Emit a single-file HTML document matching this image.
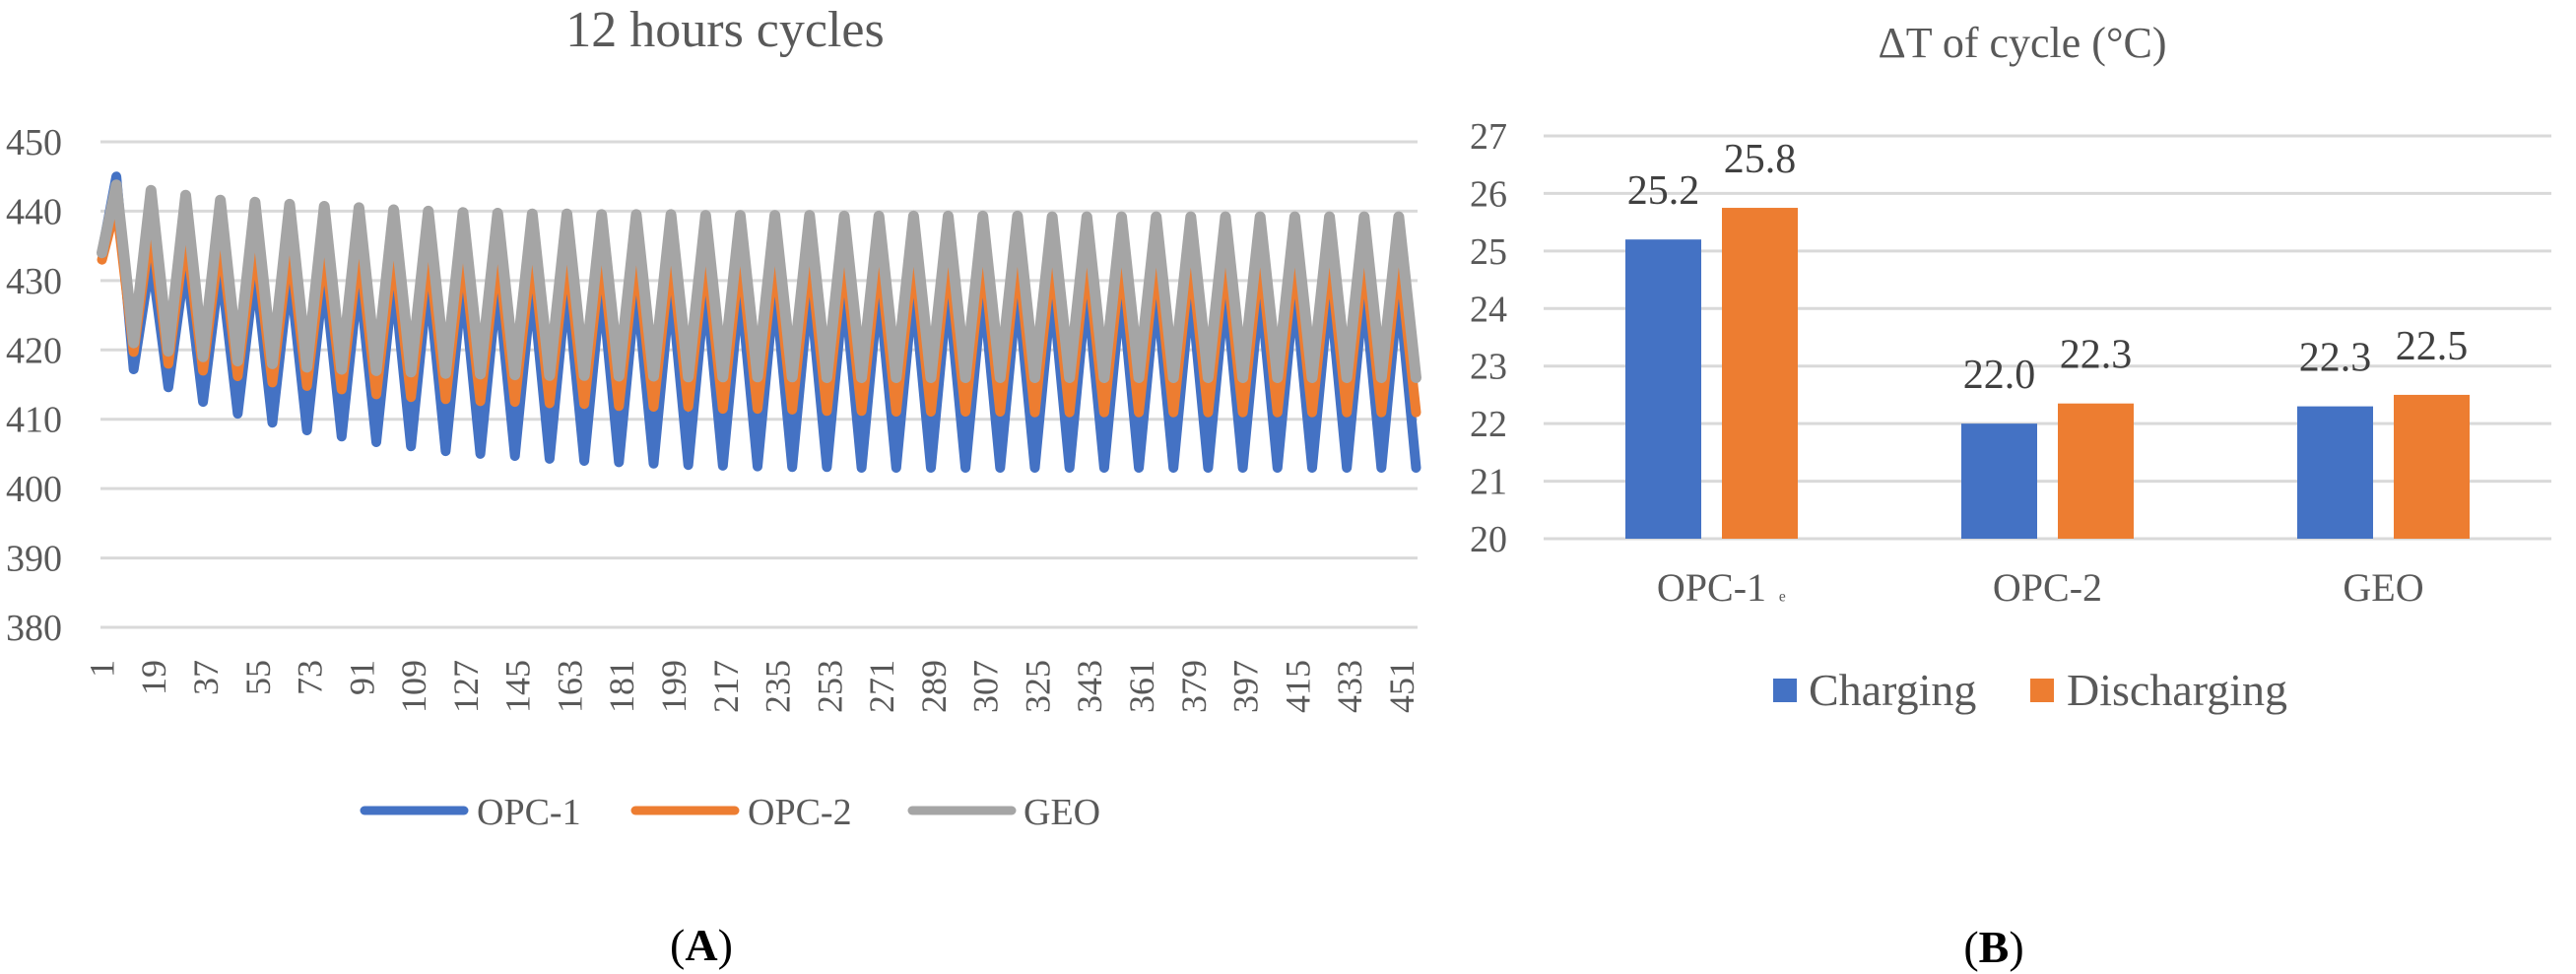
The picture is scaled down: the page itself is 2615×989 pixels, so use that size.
<!DOCTYPE html>
<html><head><meta charset="utf-8">
<style>
html,body{margin:0;padding:0;background:#fff;}
svg{display:block;font-family:"Liberation Serif",serif;}
</style></head>
<body>
<svg id="fig" width="2615" height="989" viewBox="0 0 2615 989" xmlns="http://www.w3.org/2000/svg">
  <g id="lineChart">
    <text x="736" y="47" font-size="52" fill="#595959" text-anchor="middle">12 hours cycles</text>
    <g id="lgrid"></g>
    <g id="lylab"></g>
    <g id="lxlab"></g>
    <g id="lseries"></g>
    <g>
      <g>
        <line x1="370" y1="823" x2="471" y2="823" stroke="#4472c4" stroke-width="9" stroke-linecap="round"/>
        <text x="484" y="837" font-size="38" fill="#595959">OPC-1</text>
      </g>
      <g>
        <line x1="645" y1="823" x2="746" y2="823" stroke="#ed7d31" stroke-width="9" stroke-linecap="round"/>
        <text x="759" y="837" font-size="38" fill="#595959">OPC-2</text>
      </g>
      <g>
        <line x1="926" y1="823" x2="1027" y2="823" stroke="#a5a5a5" stroke-width="9" stroke-linecap="round"/>
        <text x="1039" y="837" font-size="38" fill="#595959">GEO</text>
      </g>
    </g>
    <text x="712" y="975" font-size="46" text-anchor="middle" fill="#000">(<tspan font-weight="bold">A</tspan>)</text>
  </g>

  <g id="barChart">
    <text x="2053" y="58" font-size="44" fill="#595959" text-anchor="middle">ΔT of cycle (°C)</text>
    <g id="bgrid"></g>
    <g id="bylab"></g>
    <g id="bbars"></g>
    <g id="bxlab"></g>
    <text x="1806" y="608" font-size="26" fill="#595959">ₑ</text>
    <g>
      <g>
        <rect x="1800" y="689" width="24" height="24" fill="#4472c4"/>
        <text x="1836" y="716" font-size="46" fill="#595959">Charging</text>
      </g>
      <g>
        <rect x="2061" y="689" width="24" height="24" fill="#ed7d31"/>
        <text x="2098" y="716" font-size="46" fill="#595959">Discharging</text>
      </g>
    </g>
    <text x="2024" y="977" font-size="46" text-anchor="middle" fill="#000">(<tspan font-weight="bold">B</tspan>)</text>
  </g>
</svg>
<script>
// ---------- Line chart data (A) ----------
const lineYTicks = [450, 440, 430, 420, 410, 400, 390, 380];
const lineXTickLabels = [1,19,37,55,73,91,109,127,145,163,181,199,217,235,253,271,289,307,325,343,361,379,397,415,433,451];
const seriesNames = ["OPC-1", "OPC-2", "GEO"];
const startValues = [434, 433, 434];
const opc1Peaks = [445,433.5,433,432.5,432,431.6,431.3,431,430.8,430.6,430.4,430.2,430.1,430,429.9,429.8,429.8,429.7,429.7,429.6,429.6,429.5,429.5,429.5,429.4,429.4,429.4,429.4,429.3,429.3,429.3,429.3,429.3,429.3,429.3,429.3,429.3,429.3];
const opc1Troughs = [417.2,414.6,412.5,410.8,409.5,408.4,407.5,406.7,406.1,405.4,405,404.7,404.3,404,403.8,403.6,403.4,403.3,403.2,403.1,403.1,403,403,403,403,403,403,403,403,403,403,403,403,403,403,403,403,403];
const opc2Peaks = [441,438.2,437.1,436.4,435.9,435.4,435.2,435,434.8,434.7,434.6,434.5,434.5,434.4,434.4,434.3,434.3,434.3,434.2,434.2,434.2,434.2,434.1,434.1,434.1,434.1,434.1,434,434,434,434,434,434,434,434,434,434,434];
const opc2Troughs = [419.7,418,417,416.2,415.3,414.8,414.3,413.6,413.2,412.9,412.6,412.5,412.3,412.2,411.9,411.8,411.8,411.5,411.5,411.4,411.2,411.2,411.1,411.1,411.1,411.1,411,411,411,411,411,411,411,411,411,411,411,411];
const geoPeaks = [443.8,443,442.3,441.6,441.3,441,440.7,440.5,440.2,440,439.8,439.7,439.6,439.6,439.5,439.5,439.5,439.4,439.4,439.4,439.4,439.3,439.3,439.3,439.3,439.3,439.3,439.2,439.2,439.2,439.2,439.2,439.2,439.2,439.2,439.2,439.2,439.2];
const geoTroughs = [421,419.8,419,418.4,418,417.5,417.2,417,416.8,416.6,416.5,416.4,416.3,416.3,416.2,416.2,416.1,416.1,416.1,416.1,416,416,416,416,416,416,416,416,416,416,416,416,416,416,416,416,416,416];

// ---------- Bar chart data (B) ----------
const barCategories = ["OPC-1", "OPC-2", "GEO"];
const chargingValues = [25.2, 22.0, 22.3];
const dischargingValues = [25.75, 22.35, 22.5];
const chargingLabels = ["25.2", "22.0", "22.3"];
const dischargingLabels = ["25.8", "22.3", "22.5"];
const barYTicks = [27, 26, 25, 24, 23, 22, 21, 20];

const NS = "http://www.w3.org/2000/svg";
function mk(tag, attrs, parent) {
  const e = document.createElementNS(NS, tag);
  for (const k in attrs) e.setAttribute(k, attrs[k]);
  parent.appendChild(e);
  return e;
}

// Line chart axes
const L = {left: 102, right: 1439, n: 456, yTop: 144, yBot: 637, vTop: 450, vBot: 380};
const lx = i => L.left + (i - 0.5) * (L.right - L.left) / L.n;
const ly = v => L.yTop + (L.vTop - v) * (L.yBot - L.yTop) / (L.vTop - L.vBot);

const lgrid = document.getElementById('lgrid');
const lylab = document.getElementById('lylab');
lineYTicks.forEach(t => {
  const g = mk('line', {x1: L.left, x2: L.right, y1: ly(t), y2: ly(t), stroke: '#d9d9d9', 'stroke-width': 3}, lgrid);
  
  
  const tx = mk('text', {x: 63, y: ly(t) + 13, 'font-size': 38, fill: '#595959', 'text-anchor': 'end'}, lylab);
  tx.textContent = t;
  
  
});
const lxlab = document.getElementById('lxlab');
lineXTickLabels.forEach(t => {
  const x = lx(t) + 12;
  const tx = mk('text', {x: x, y: 670, 'font-size': 36, fill: '#595959', 'text-anchor': 'end', transform: 'rotate(-90 ' + x + ' 670)'}, lxlab);
  tx.textContent = t;
  
  
});

const seriesPeaks = [opc1Peaks, opc2Peaks, geoPeaks];
const seriesTroughs = [opc1Troughs, opc2Troughs, geoTroughs];
const seriesColors = ['#4472c4', '#ed7d31', '#a5a5a5'];
const lseries = document.getElementById('lseries');
seriesNames.forEach((name, s) => {
  const pts = [[1, startValues[s]]];
  for (let c = 0; c < seriesPeaks[s].length; c++) {
    pts.push([6 + 12 * c, seriesPeaks[s][c]]);
    pts.push([12 + 12 * c, seriesTroughs[s][c]]);
  }
  const p = mk('polyline', {points: pts.map(q => lx(q[0]).toFixed(1) + ',' + ly(q[1]).toFixed(1)).join(' '),
    fill: 'none', stroke: seriesColors[s], 'stroke-width': s === 2 ? 11 : 10, 'stroke-linejoin': 'round', 'stroke-linecap': 'round'}, lseries);
  
  
});

// Bar chart axes
const B = {left: 1567, right: 2590, yTop: 138, yBot: 547, vTop: 27, vBot: 20};
const by = v => B.yTop + (B.vTop - v) * (B.yBot - B.yTop) / (B.vTop - B.vBot);
const catW = (B.right - B.left) / barCategories.length;
const bgrid = document.getElementById('bgrid');
const bylab = document.getElementById('bylab');
barYTicks.forEach(t => {
  const g = mk('line', {x1: B.left, x2: B.right, y1: by(t), y2: by(t), stroke: '#d9d9d9', 'stroke-width': 3}, bgrid);
  
  
  const tx = mk('text', {x: 1530, y: by(t) + 13, 'font-size': 38, fill: '#595959', 'text-anchor': 'end'}, bylab);
  tx.textContent = t;
  
  
});
const bbars = document.getElementById('bbars');
const bxlab = document.getElementById('bxlab');
const barW = 77, gap = 21;
barCategories.forEach((cat, i) => {
  const cx = B.left + catW * (i + 0.5);
  const vals = [chargingValues[i], dischargingValues[i]];
  const labs = [chargingLabels[i], dischargingLabels[i]];
  const cols = ['#4472c4', '#ed7d31'];
  const kinds = ['charging', 'discharging'];
  for (let k = 0; k < 2; k++) {
    const x = k === 0 ? cx - gap / 2 - barW : cx + gap / 2;
    const r = mk('rect', {x: x, y: by(vals[k]), width: barW, height: by(B.vBot) - by(vals[k]), fill: cols[k]}, bbars);
    
    
    const t = mk('text', {x: x + barW / 2, y: by(vals[k]) - 36, 'font-size': 42, fill: '#404040', 'text-anchor': 'middle'}, bbars);
    t.textContent = labs[k];
    
    
  }
  const tx = mk('text', {x: cx, y: 610, 'font-size': 40, fill: '#595959', 'text-anchor': 'middle'}, bxlab);
  tx.textContent = cat;
  
  
});
</script>
</body></html>
